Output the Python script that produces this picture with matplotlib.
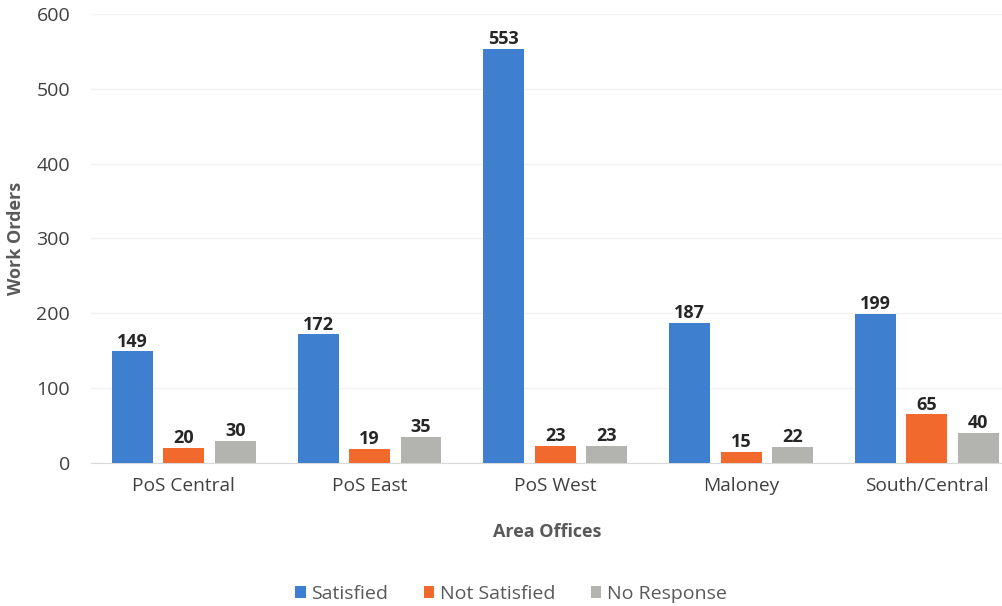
import matplotlib.pyplot as plt
import numpy as np

offices = ["PoS Central", "PoS East", "PoS West", "Maloney", "South/Central"]
satisfied = [149, 172, 553, 187, 199]
not_satisfied = [20, 19, 23, 15, 65]
no_response = [30, 35, 23, 22, 40]
yticks = [0, 100, 200, 300, 400, 500, 600]

series = [
    ("Satisfied", satisfied, "#3f7fcf"),
    ("Not Satisfied", not_satisfied, "#f2692e"),
    ("No Response", no_response, "#b3b3b0"),
]

plt.rcParams["font.family"] = ["Open Sans", "DejaVu Sans"]

fig = plt.figure(figsize=(10.03, 6.06), dpi=100)
ax = fig.add_axes([91 / 1003, 1 - 463 / 606, 912 / 1003, 449 / 606])

x = np.arange(len(offices))
width = 0.22
step = 0.277

for i, (name, vals, color) in enumerate(series):
    pos = x + (i - 1) * step
    ax.bar(pos, vals, width=width, color=color, label=name, zorder=3)
    for p, v in zip(pos, vals):
        ax.text(p, v + 1, str(v), ha="center", va="bottom", fontsize=13,
                fontweight="bold", color="#262626", zorder=4)

ax.set_xlim(-0.5, 4.41)
ax.set_ylim(0, 600)
ax.set_yticks(yticks)
ax.set_xticks(x)
ax.set_xticklabels(offices)
ax.tick_params(axis="y", length=0, labelsize=14, colors="#404040", pad=15)
ax.tick_params(axis="x", length=0, labelsize=13.8, colors="#404040", pad=10)
ax.grid(axis="y", color="#f2f2f2", linewidth=1, zorder=0)

for s in ["top", "right", "left"]:
    ax.spines[s].set_visible(False)
ax.spines["bottom"].set_color("#d9d9d9")

ax.set_ylabel("Work Orders", fontsize=13, fontweight="bold", color="#595959", labelpad=8)
ax.set_xlabel("Area Offices", fontsize=13, fontweight="bold", color="#595959", labelpad=20)

leg = fig.legend(loc="center", bbox_to_anchor=(511 / 1003, 1 - 594 / 606), ncol=3,
                 frameon=False, fontsize=14, handlelength=0.55, handleheight=0.55,
                 handletextpad=0.3, columnspacing=1.8)
for t in leg.get_texts():
    t.set_color("#595959")

fig.savefig("out.png", dpi=100)
